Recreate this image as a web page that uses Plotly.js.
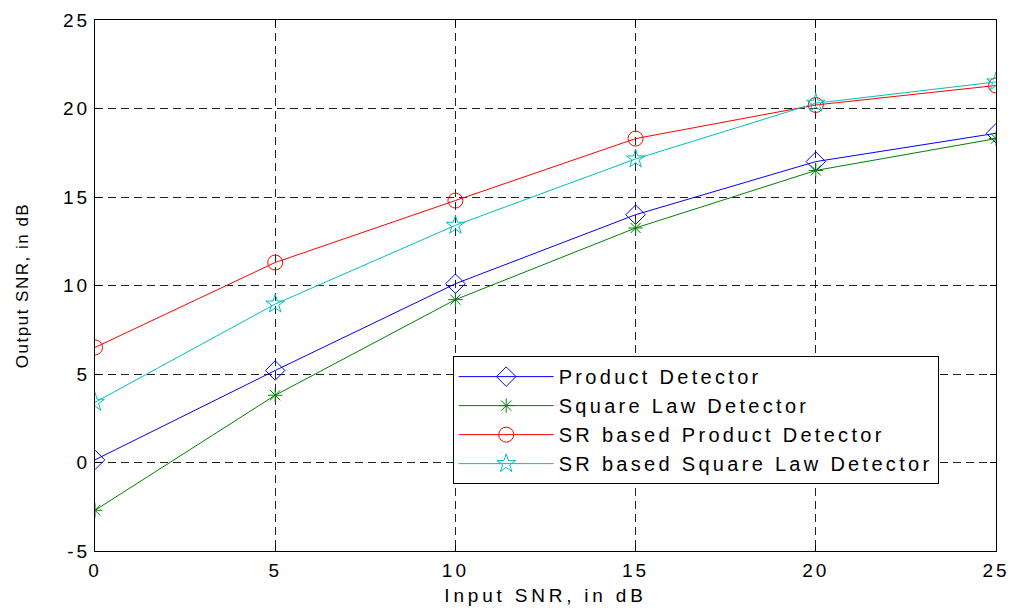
<!DOCTYPE html>
<html><head><meta charset="utf-8">
<script src="https://cdn.plot.ly/plotly-3.0.1.min.js"></script>
<style>
body{margin:0;background:#fff}#c{width:1015px;height:610px}
.xtick text, .ytick text{letter-spacing:3px}
.g-xtitle text{letter-spacing:3.8px}
.g-ytitle text{letter-spacing:1.5px}
.legendtext{letter-spacing:3.3px}
</style>
</head><body><div id="c"></div>
<script>
const inputSNR = [0, 5, 10, 15, 20, 25];
const productDetector = [0.15, 5.2, 10.1, 14.0, 17.0, 18.6];
const squareLawDetector = [-2.7, 3.8, 9.2, 13.25, 16.5, 18.3];
const srProductDetector = [6.5, 11.3, 14.8, 18.3, 20.2, 21.3];
const srSquareLawDetector = [3.4, 8.95, 13.4, 17.15, 20.3, 21.5];
const seriesNames = ["Product Detector", "Square Law Detector", "SR based Product Detector", "SR based Square Law Detector"];
const xTickVals = [0, 5, 10, 15, 20, 25];
const xTickText = ["0", "5", "10", "15", "20", "25"];
const yTickVals = [-5, 0, 5, 10, 15, 20, 25];
const yTickText = ["-5", "0", "5", "10", "15", "20", "25"];

function tr(y, name, color, symbol, size) {
  return {x: inputSNR, y: y, name: name, type: 'scatter', mode: 'lines+markers',
    line: {color: color, width: 1},
    marker: {symbol: symbol, size: size, color: color, line: {color: color, width: 1}}};
}
const data = [
  tr(productDetector, seriesNames[0], '#0000ff', 'diamond-open', 15),
  tr(squareLawDetector, seriesNames[1], '#008000', 'asterisk-open', 12),
  tr(srProductDetector, seriesNames[2], '#ff0000', 'circle-open', 15),
  tr(srSquareLawDetector, seriesNames[3], '#00bfbf', 'star-open', 14)
];
const axCommon = {
  showline: true, linecolor: '#000', linewidth: 1, mirror: 'ticks',
  ticks: 'inside', ticklen: 6, tickcolor: '#000',
  showgrid: true, gridcolor: '#222', griddash: '8px,5px', gridwidth: 1,
  zeroline: false, tickmode: 'array',
  tickfont: {family: 'Liberation Sans, Arial, sans-serif', size: 19, color: '#000'}
};
const layout = {
  width: 1015, height: 610,
  margin: {l: 95, r: 19, t: 20, b: 59},
  paper_bgcolor: '#fff', plot_bgcolor: '#fff',
  font: {family: 'Liberation Sans, Arial, sans-serif', color: '#000'},
  xaxis: Object.assign({}, axCommon, {range: [0, 25], tickvals: xTickVals, ticktext: xTickText,
    ticklabelstandoff: 2,
    title: {text: 'Input SNR, in dB', font: {size: 19}, standoff: 8}}),
  yaxis: Object.assign({}, axCommon, {range: [-5, 25], tickvals: yTickVals, ticktext: yTickText,
    title: {text: 'Output SNR, in dB', font: {size: 17}, standoff: 30}}),
  showlegend: true,
  legend: {x: 0.397, y: 0.367, xanchor: 'left', yanchor: 'top',
    bgcolor: '#fff', bordercolor: '#000', borderwidth: 1,
    font: {size: 20, color: '#000'}, tracegroupgap: 0, itemwidth: 95}
};
Plotly.newPlot('c', data, layout, {displayModeBar: false, staticPlot: true});
</script></body></html>
